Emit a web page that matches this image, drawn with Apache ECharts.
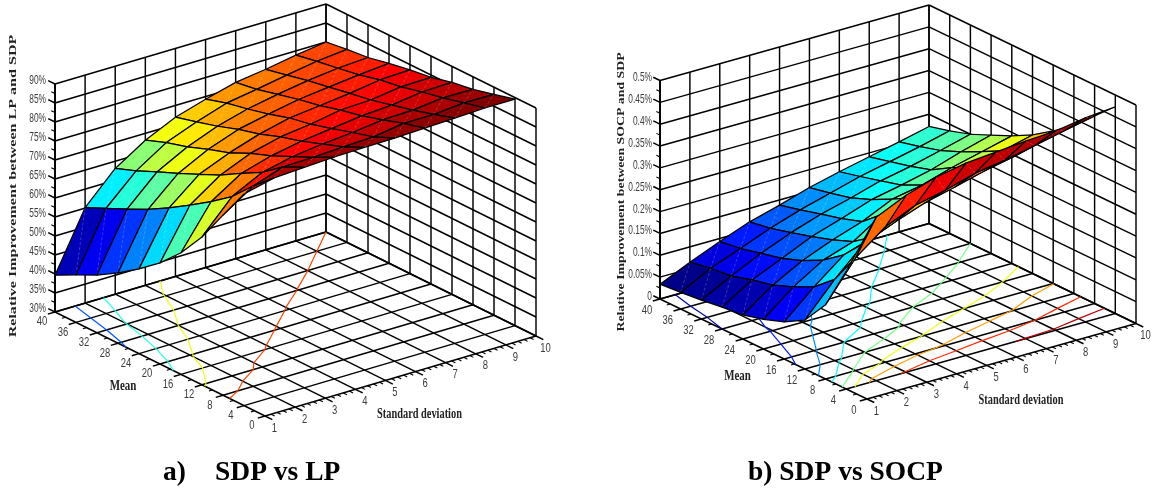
<!DOCTYPE html>
<html>
<head>
<meta charset="utf-8">
<style>html,body{margin:0;padding:0;background:#fff}#chart{width:1158px;height:488px}</style>
<script src="https://cdn.jsdelivr.net/npm/echarts@6/dist/echarts.min.js"></script>
</head>
<body>
<div id="chart"></div>
<script>
// ---------- values ----------
const sdValues = [1, 2, 3, 4, 5, 6, 7, 8, 9, 10];
const meanValues = [40, 36, 32, 28, 24, 20, 16, 12, 8, 4];
const meanTickValues = [40, 36, 32, 28, 24, 20, 16, 12, 8, 4, 0];
const lpZTicks = [30, 35, 40, 45, 50, 55, 60, 65, 70, 75, 80, 85, 90];
const lpZLabels = ['30%', '35%', '40%', '45%', '50%', '55%', '60%', '65%', '70%', '75%', '80%', '85%', '90%'];
const socpZTicks = [0, 0.05, 0.1, 0.15, 0.2, 0.25, 0.3, 0.35, 0.4, 0.45, 0.5];
const socpZLabels = ['0', '0.05%', '0.1%', '0.15%', '0.2%', '0.25%', '0.3%', '0.35%', '0.4%', '0.45%', '0.5%'];
const lpContourLevels = [50, 60, 70, 80];
const socpContourLevels = [0.05, 0.1, 0.15, 0.2, 0.25, 0.3, 0.35, 0.4, 0.45];

// one row per standard deviation (1..10), one column per mean (40..4)
const lpSurface = [
  [39.7, 42.5, 45.2, 48.5, 52.3, 56.6, 62.0, 68.9, 77.4, 85.7],
  [55.1, 57.7, 60.2, 62.9, 66.0, 69.5, 73.1, 77.2, 82.7, 87.6],
  [63.1, 65.2, 67.7, 70.0, 72.5, 75.0, 78.2, 81.2, 85.4, 88.0],
  [68.2, 70.3, 71.9, 74.0, 75.8, 78.4, 80.5, 83.0, 85.6, 88.4],
  [71.9, 73.4, 75.0, 76.9, 78.4, 80.4, 82.0, 84.0, 86.0, 88.6],
  [74.3, 76.0, 77.2, 78.6, 80.3, 81.4, 83.0, 84.7, 86.3, 88.7],
  [76.4, 77.3, 78.7, 80.1, 81.2, 82.8, 84.0, 85.7, 87.5, 89.0],
  [77.5, 78.7, 80.0, 81.0, 82.1, 83.1, 84.5, 85.9, 87.5, 89.3],
  [78.9, 80.0, 80.9, 81.9, 83.3, 84.2, 85.6, 86.8, 88.2, 89.6],
  [80.0, 80.8, 81.4, 82.6, 83.6, 84.4, 85.8, 86.7, 88.1, 89.6]
];
const socpSurface = [
  [0.034, 0.038, 0.043, 0.050, 0.055, 0.068, 0.085, 0.112, 0.170, 0.270],
  [0.065, 0.074, 0.079, 0.093, 0.104, 0.123, 0.146, 0.186, 0.258, 0.374],
  [0.093, 0.100, 0.112, 0.123, 0.141, 0.165, 0.200, 0.250, 0.310, 0.405],
  [0.119, 0.127, 0.140, 0.154, 0.169, 0.188, 0.222, 0.278, 0.340, 0.427],
  [0.138, 0.150, 0.163, 0.176, 0.192, 0.232, 0.255, 0.303, 0.355, 0.440],
  [0.159, 0.169, 0.181, 0.200, 0.224, 0.250, 0.285, 0.320, 0.375, 0.446],
  [0.176, 0.188, 0.201, 0.214, 0.237, 0.265, 0.300, 0.338, 0.386, 0.452],
  [0.191, 0.203, 0.215, 0.230, 0.258, 0.280, 0.315, 0.352, 0.400, 0.456],
  [0.206, 0.218, 0.232, 0.252, 0.275, 0.300, 0.335, 0.372, 0.415, 0.467],
  [0.222, 0.235, 0.250, 0.271, 0.292, 0.317, 0.349, 0.386, 0.429, 0.473]
];

// ---------- view settings of the two panels (panel-local units) ----------
const panelA = {
  grid: 0, surface: lpSurface, zTicks: lpZTicks, zLabels: lpZLabels, levels: lpContourLevels,
  zMin: 30, zMax: 90, zMinor: 2.5, zMinorCount: 12,
  ox: 55, oy: 312, sx: 271, sy: -80, mx: 210, my: 104, zh: 228,
  zLabelOff: [-9, -4], meanLabelOff: [-13, 9.7], sdLabelOff: [9.5, 12],
  texts: [
    {t: 'Relative Improvement between LP and SDP', x: 13, y: 186, rot: 1, sc: 1.53, f: 'bold 10.5px "Liberation Serif"', c: '#222'},
    {t: 'Mean', x: 123, y: 386, sc: 0.78, f: 'bold 14px "Liberation Serif"', c: '#222'},
    {t: 'Standard deviation', x: 419.5, y: 414, sc: 0.69, f: 'bold 15px "Liberation Serif"', c: '#222'},
    {t: 'a)', x: 163, y: 473, sc: 1, a: 'left', f: 'bold 27.5px "Liberation Serif"', c: '#000'},
    {t: 'SDP vs LP', x: 215, y: 473, sc: 1, a: 'left', f: 'bold 27.5px "Liberation Serif"', c: '#000'}
  ]
};
const panelB = {
  grid: 1, surface: socpSurface, zTicks: socpZTicks, zLabels: socpZLabels, levels: socpContourLevels,
  zMin: 0, zMax: 0.5, zMinor: 0.025, zMinorCount: 10,
  ox: 81, oy: 299, sx: 269, sy: -75.5, mx: 207, my: 100, zh: 218.5,
  zLabelOff: [-8, -2.8], meanLabelOff: [-13, 11], sdLabelOff: [9.5, 12],
  texts: [
    {t: 'Relative Improvement between SOCP and SDP', x: 42, y: 192, rot: 1, sc: 1.38, f: 'bold 10px "Liberation Serif"', c: '#222'},
    {t: 'Mean', x: 158.5, y: 376, sc: 0.78, f: 'bold 14px "Liberation Serif"', c: '#222'},
    {t: 'Standard deviation', x: 442, y: 400, sc: 0.69, f: 'bold 15px "Liberation Serif"', c: '#222'},
    {t: 'b) SDP vs SOCP', x: 169, y: 473, sc: 1, a: 'left', f: 'bold 27.5px "Liberation Serif"', c: '#000'}
  ]
};

const TICK_FONT = '13.5px "Liberation Sans"';

function clamp01(v) { return Math.max(0, Math.min(1, v)); }
function jet(t) {
  const r = clamp01(Math.min(4 * t - 1.5, -4 * t + 4.5));
  const g = clamp01(Math.min(4 * t - 0.5, -4 * t + 3.5));
  const b = clamp01(Math.min(4 * t + 0.5, -4 * t + 2.5));
  return 'rgb(' + Math.round(r * 255) + ',' + Math.round(g * 255) + ',' + Math.round(b * 255) + ')';
}

function buildPanel(p) {
  const project = (sd, mean, z) => [
    p.ox + (sd - 1) / 9 * p.sx + (40 - mean) / 40 * p.mx,
    p.oy + (sd - 1) / 9 * p.sy + (40 - mean) / 40 * p.my - (z - p.zMin) / (p.zMax - p.zMin) * p.zh
  ];
  const flat = p.surface.reduce((a, r) => a.concat(r), []);
  const cMin = Math.min.apply(null, flat), cMax = Math.max.apply(null, flat);
  const colorOf = v => jet((v - cMin) / (cMax - cMin));
  const zB = p.zMin, zT = p.zMax;

  // walls, floor and ticks
  const frame = [];
  const seg = (a, b, w) => frame.push({a, b, w});
  sdValues.forEach(s => {
    seg([s, 40, zB], [s, 40, zT], 1.45);
    seg([s, 0, zB], [s, 40, zB], 1.45);
  });
  meanTickValues.forEach(m => {
    seg([10, m, zB], [10, m, zT], 1.45);
    seg([1, m, zB], [10, m, zB], 1.45);
  });
  p.zTicks.forEach(z => {
    seg([1, 40, z], [10, 40, z], 1.45);
    seg([10, 40, z], [10, 0, z], 1.45);
    seg([1, 40, z], [1, 41.3, z], 1.45);
  });
  for (let k = 0; k < p.zMinorCount; k++) {
    const z = zB + (2 * k + 1) * p.zMinor;
    seg([1, 40, z], [1, 40.7, z], 1.1);
  }
  seg([1, 40, zB], [1, 40, zT], 1.9);
  meanTickValues.forEach(m => seg([1, m, zB], [0.76, m, zB], 1.45));
  for (let m = 2; m < 40; m += 4) seg([1, m, zB], [0.88, m, zB], 1.1);
  sdValues.forEach(s => seg([s, 0, zB], [s, -1.4, zB], 1.45));
  for (let k = 0; k < 45; k++) {
    if (k % 5 !== 0) seg([1 + k * 0.2, 0, zB], [1 + k * 0.2, -0.7, zB], 1.1);
  }

  // floor contours from the surface values
  const contours = [];
  const S = p.surface;
  p.levels.forEach(lv => {
    const col = colorOf(lv);
    for (let i = 0; i < 9; i++) for (let j = 0; j < 9; j++) {
      const corners = [[i, j], [i + 1, j], [i + 1, j + 1], [i, j + 1]];
      const cross = [];
      for (let e = 0; e < 4; e++) {
        const c1 = corners[e], c2 = corners[(e + 1) % 4];
        const v1 = S[c1[0]][c1[1]], v2 = S[c2[0]][c2[1]];
        if ((v1 < lv) !== (v2 < lv)) {
          const f = (lv - v1) / (v2 - v1);
          cross.push([
            sdValues[c1[0]] + f * (sdValues[c2[0]] - sdValues[c1[0]]),
            meanValues[c1[1]] + f * (meanValues[c2[1]] - meanValues[c1[1]])
          ]);
        }
      }
      if (cross.length >= 2) contours.push({a: cross[0], b: cross[1], c: col});
      if (cross.length === 4) contours.push({a: cross[2], b: cross[3], c: col});
    }
  });

  // quads, far to near
  const quads = [];
  for (let i = 8; i >= 0; i--) for (let j = 0; j < 9; j++) quads.push([i, j]);

  // labels
  const labels = [];
  p.zTicks.forEach((z, k) => labels.push({pos: project(1, 40, z), off: p.zLabelOff, t: p.zLabels[k], a: 'right', sc: 0.62, f: TICK_FONT, c: '#3c3c3c'}));
  meanTickValues.forEach(m => labels.push({pos: project(1, m, zB), off: p.meanLabelOff, t: String(m), a: 'center', sc: 0.7, f: TICK_FONT, c: '#3c3c3c'}));
  sdValues.forEach(s => labels.push({pos: project(s, 0, zB), off: p.sdLabelOff, t: String(s), a: 'center', sc: 0.7, f: TICK_FONT, c: '#3c3c3c'}));
  p.texts.forEach(x => labels.push({pos: [x.x, x.y], off: [0, 0], t: x.t, a: x.a || 'center', sc: x.sc, f: x.f, c: x.c, rot: x.rot}));

  const base = {
    type: 'custom', coordinateSystem: 'cartesian2d',
    xAxisIndex: p.grid, yAxisIndex: p.grid, silent: true, animation: false, clip: false
  };
  const line = (api, a, b, style) => {
    const A = api.coord(a), B = api.coord(b);
    return {type: 'line', shape: {x1: A[0], y1: A[1], x2: B[0], y2: B[1]}, style};
  };
  return [
    Object.assign({}, base, {
      name: 'frame', z: 1, data: frame.map((d, i) => [i, 0]),
      renderItem: (params, api) => {
        const d = frame[params.dataIndex];
        return line(api, project.apply(null, d.a), project.apply(null, d.b), {stroke: '#000', lineWidth: d.w, fill: null});
      }
    }),
    Object.assign({}, base, {
      name: 'contours', z: 2, data: contours.map((d, i) => [i, 0]),
      renderItem: (params, api) => {
        const d = contours[params.dataIndex];
        return line(api, project(d.a[0], d.a[1], zB), project(d.b[0], d.b[1], zB), {stroke: d.c, lineWidth: 1.2, fill: null});
      }
    }),
    Object.assign({}, base, {
      name: 'surface', z: 3, data: quads,
      renderItem: (params, api) => {
        const q = quads[params.dataIndex], i = q[0], j = q[1];
        const V = (a, b) => api.coord(project(sdValues[a], meanValues[b], S[a][b]));
        const p1 = V(i, j), p2 = V(i + 1, j), p3 = V(i + 1, j + 1), p4 = V(i, j + 1);
        return {
          type: 'group',
          children: [
            {type: 'polygon', shape: {points: [p1, p2, p3, p4]},
             style: {fill: colorOf(S[i][j + 1]), stroke: '#000', lineWidth: 1.25, lineJoin: 'round'}},
            {type: 'line', shape: {x1: p4[0], y1: p4[1], x2: p2[0], y2: p2[1]},
             style: {stroke: 'rgba(255,255,255,0.3)', lineWidth: 0.7, lineDash: [3, 2], fill: null}}
          ]
        };
      }
    }),
    Object.assign({}, base, {
      name: 'labels', z: 4, data: labels.map((d, i) => [i, 0]),
      renderItem: (params, api) => {
        const d = labels[params.dataIndex];
        const P = api.coord(d.pos);
        return {
          type: 'text',
          x: P[0] + d.off[0], y: P[1] + d.off[1],
          rotation: d.rot ? Math.PI / 2 : 0,
          scaleX: d.sc,
          style: {text: d.t, font: d.f, fill: d.c, align: d.a, verticalAlign: 'middle'}
        };
      }
    })
  ];
}

const chart = echarts.init(document.getElementById('chart'), null, {renderer: 'canvas'});
const hiddenX = {type: 'value', min: 0, max: 579, show: false};
const hiddenY = {type: 'value', min: 0, max: 488, inverse: true, show: false};
chart.setOption({
  animation: false,
  backgroundColor: '#fff',
  grid: [
    {left: 0, top: 0, width: 579, height: 488},
    {left: 579, top: 0, width: 579, height: 488}
  ],
  xAxis: [Object.assign({gridIndex: 0}, hiddenX), Object.assign({gridIndex: 1}, hiddenX)],
  yAxis: [Object.assign({gridIndex: 0}, hiddenY), Object.assign({gridIndex: 1}, hiddenY)],
  series: buildPanel(panelA).concat(buildPanel(panelB))
});
</script>
</body>
</html>
